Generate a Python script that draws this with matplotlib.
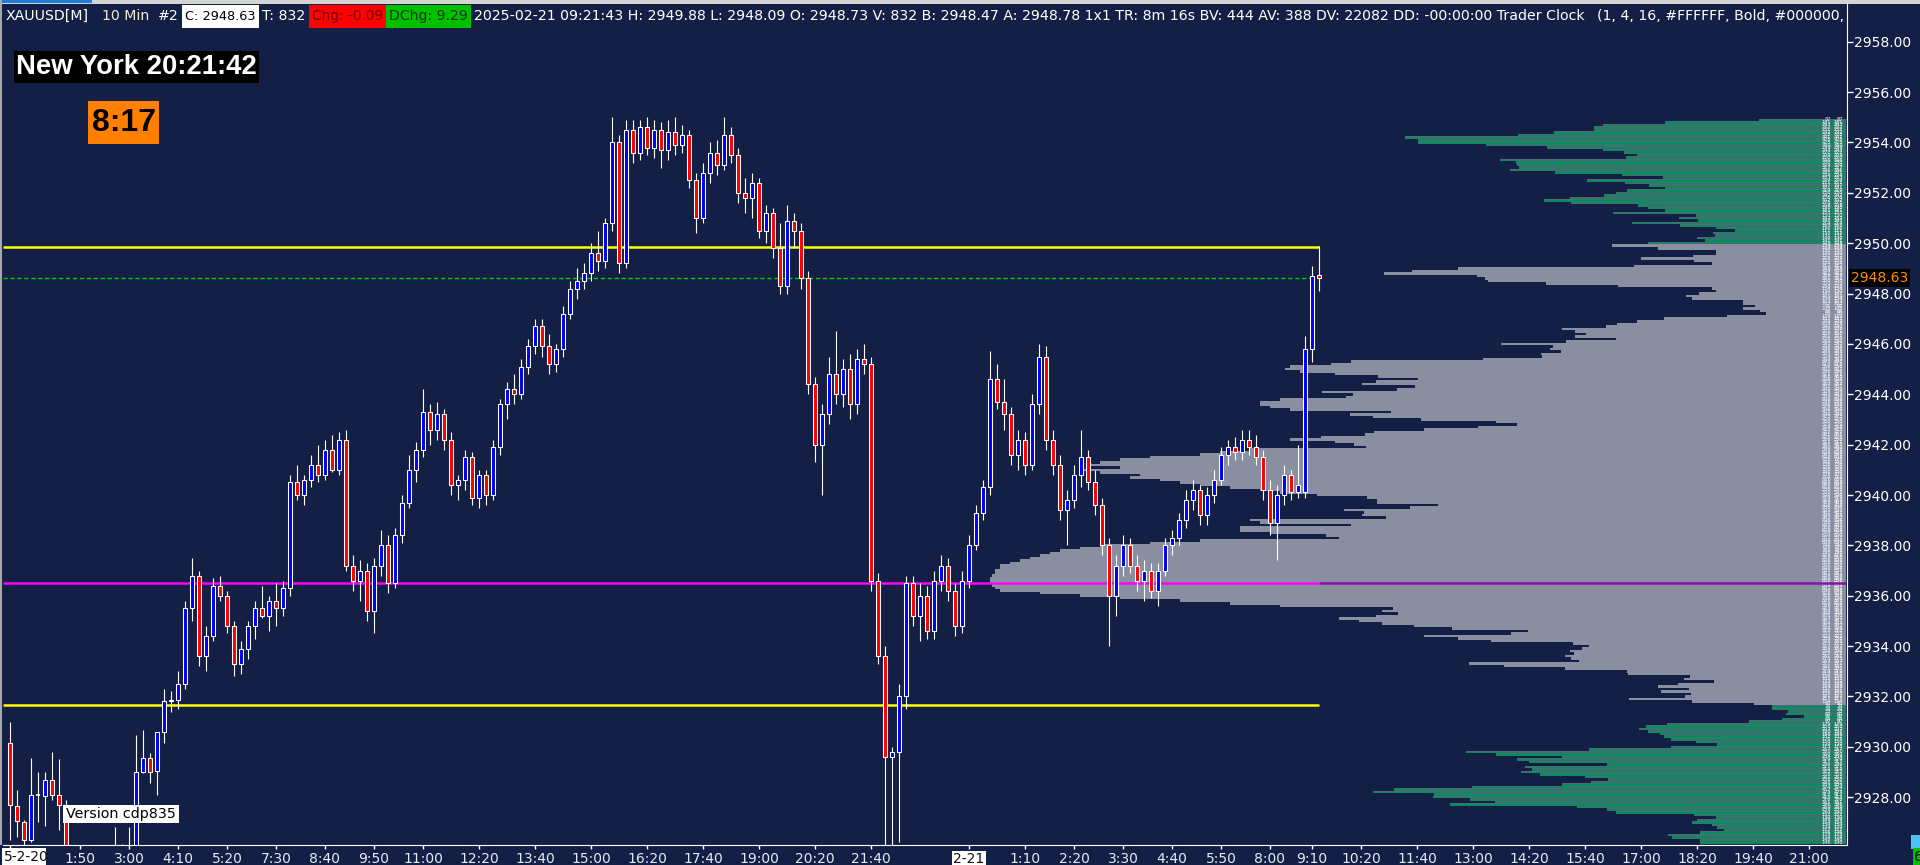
import numpy as np
import matplotlib.pyplot as plt
from matplotlib.patches import Rectangle
from matplotlib import font_manager

W, H = 1920, 865
BG = '#141f45'

# ---------------- data: 10 min candles, bar 0 .. 187 ----------------
opens = [
    2930.15, 2927.65, 2927.0, 2926.3, 2928.1, 2928.05, 2928.7, 2928.1, 2927.7, 2925.5,
    2925.2, 2925.0, 2924.6, 2925.0, 2925.4, 2925.6, 2925.9, 2925.7, 2925.8, 2929.0,
    2929.55, 2929.05, 2930.6, 2931.8, 2931.85, 2932.5, 2935.5, 2936.8, 2933.6, 2934.4,
    2936.4, 2936.0, 2934.8, 2933.3, 2933.9, 2934.8, 2935.5, 2935.2, 2935.8, 2935.5,
    2936.3, 2940.5, 2940.0, 2940.6, 2941.2, 2940.8, 2941.8, 2941.0, 2942.2, 2937.2,
    2936.6, 2937.0, 2935.4, 2937.2, 2938.0, 2936.5, 2938.4, 2939.7, 2941.0, 2941.8,
    2943.3, 2942.6, 2943.2, 2942.2, 2940.4, 2940.6, 2941.5, 2939.9, 2940.8, 2940.0,
    2941.9, 2943.6, 2944.2, 2944.0, 2945.1, 2945.9, 2946.7, 2945.9, 2945.2, 2945.8,
    2947.2, 2948.2, 2948.5, 2948.8, 2949.6, 2949.3, 2950.8, 2954.0, 2949.2, 2954.5,
    2953.6, 2954.6, 2953.8, 2954.5, 2953.7, 2954.4, 2953.9, 2954.3, 2952.5, 2951.0,
    2952.8, 2953.6, 2953.1, 2954.3, 2953.5, 2952.0, 2951.8, 2952.4, 2950.5, 2951.2,
    2949.8, 2948.3, 2950.9, 2950.5, 2948.6, 2944.4, 2942.0, 2943.2, 2944.8, 2944.0,
    2945.0, 2943.6, 2945.4, 2945.2, 2936.6, 2933.6, 2929.6, 2929.8, 2932.0, 2936.5,
    2935.2, 2936.0, 2934.6, 2936.6, 2937.2, 2936.2, 2934.8, 2936.6, 2938.0, 2939.3,
    2940.3, 2944.6, 2943.7, 2943.2, 2941.6, 2942.2, 2941.2, 2943.6, 2945.5, 2942.2,
    2941.2, 2939.4, 2939.8, 2940.8, 2941.5, 2940.5, 2939.6, 2938.0, 2936.0, 2937.2,
    2938.0, 2937.2, 2936.6, 2937.0, 2936.2, 2937.0, 2938.0, 2938.3, 2939.0, 2939.8,
    2940.2, 2939.2, 2940.0, 2940.6, 2941.6, 2941.9, 2941.7, 2942.2, 2941.9, 2941.5,
    2940.2, 2938.9, 2940.0, 2940.8, 2940.1, 2940.1, 2945.8, 2948.73,
]
highs = [
    2931.0, 2928.3, 2927.1, 2929.55, 2929.0, 2929.0, 2929.8, 2929.5, 2927.9, 2926.0,
    2925.8, 2925.6, 2925.3, 2925.8, 2925.9, 2926.8, 2926.15, 2926.8, 2930.45, 2930.65,
    2929.75, 2930.6, 2932.3, 2932.2, 2933.0, 2935.8, 2937.5, 2937.0, 2934.8, 2936.7,
    2936.8, 2936.2, 2935.0, 2934.2, 2935.0, 2935.8, 2936.4, 2936.0, 2936.5, 2936.6,
    2940.8, 2941.2, 2940.8, 2941.6, 2942.0, 2942.2, 2942.4, 2942.5, 2942.6, 2937.6,
    2937.4, 2937.3, 2937.5, 2938.6, 2938.4, 2938.7, 2940.0, 2941.6, 2942.1, 2944.2,
    2943.6, 2943.7, 2943.4, 2942.5, 2940.8, 2941.8, 2941.7, 2941.0, 2941.0, 2942.2,
    2943.8, 2944.5, 2944.8, 2945.4, 2946.2, 2947.0, 2947.0, 2946.4, 2946.0, 2947.5,
    2948.5, 2949.0, 2949.2, 2950.0, 2950.5, 2951.0, 2955.0, 2954.3, 2954.9, 2954.9,
    2954.9, 2955.0, 2954.9, 2954.8, 2954.9, 2955.0, 2954.7, 2954.5, 2952.8, 2953.2,
    2954.0, 2954.1, 2955.0, 2954.6, 2953.8, 2952.6, 2952.8, 2952.6, 2951.5, 2951.4,
    2950.8, 2951.5, 2951.2, 2950.8, 2948.9, 2944.7, 2943.6, 2945.5, 2946.5, 2945.4,
    2945.6, 2945.8, 2946.0, 2945.5, 2936.9, 2934.0, 2930.0, 2932.5, 2936.8, 2936.8,
    2936.5, 2936.4, 2937.0, 2937.6, 2937.5, 2936.5, 2937.0, 2938.4, 2939.6, 2940.6,
    2945.7, 2945.2, 2944.6, 2943.5, 2942.6, 2942.5, 2944.0, 2946.0, 2945.9, 2942.6,
    2941.6, 2940.2, 2941.2, 2942.6, 2941.8, 2941.0, 2939.9, 2938.3, 2937.6, 2938.4,
    2938.3, 2937.6, 2937.4, 2937.3, 2937.3, 2938.3, 2938.6, 2939.3, 2940.2, 2940.6,
    2940.4, 2940.3, 2941.0, 2941.9, 2942.2, 2942.3, 2942.6, 2942.6, 2942.4, 2941.8,
    2940.6, 2940.4, 2941.2, 2941.0, 2942.0, 2946.3, 2949.1, 2949.88,
]
lows = [
    2926.3, 2926.4, 2926.1, 2926.2, 2927.0, 2926.85, 2927.9, 2926.7, 2925.0, 2924.8,
    2924.5, 2924.2, 2924.0, 2924.6, 2924.9, 2925.2, 2925.3, 2925.2, 2925.5, 2928.95,
    2928.55, 2928.1, 2930.15, 2931.4, 2931.5, 2932.3, 2935.0, 2933.2, 2933.0, 2934.2,
    2935.8, 2934.5, 2932.8, 2932.9, 2933.5, 2934.3, 2935.1, 2934.6, 2934.8, 2935.2,
    2936.0, 2939.8, 2939.6, 2940.3, 2940.5, 2940.6, 2940.9, 2940.8, 2937.0, 2936.2,
    2935.8, 2935.0, 2934.5, 2936.8, 2936.1, 2936.3, 2938.1, 2939.5, 2940.5, 2941.5,
    2942.0, 2942.2, 2941.8, 2940.0, 2939.8, 2940.2, 2939.6, 2939.5, 2939.6, 2939.8,
    2941.6, 2943.0, 2943.6, 2943.8, 2944.8, 2945.6, 2945.5, 2944.8, 2944.9, 2945.5,
    2947.0, 2947.8, 2948.2, 2948.5, 2948.9, 2949.0, 2950.5, 2948.8, 2949.0, 2953.2,
    2953.3, 2953.5, 2953.4, 2953.0, 2953.3, 2953.5, 2953.6, 2952.2, 2950.4, 2950.8,
    2952.4, 2952.7, 2952.9, 2953.2, 2951.6, 2951.2, 2951.0, 2950.2, 2950.0, 2949.4,
    2948.0, 2948.0, 2949.8, 2948.2, 2944.0, 2941.3, 2940.0, 2942.8, 2943.6, 2943.5,
    2943.0, 2943.2, 2944.8, 2936.2, 2933.3, 2926.1, 2926.1, 2926.2, 2931.5, 2934.8,
    2934.2, 2934.3, 2934.3, 2936.2, 2935.8, 2934.4, 2934.5, 2936.3, 2937.8, 2939.0,
    2940.0, 2943.4, 2942.6, 2941.2, 2941.0, 2940.8, 2941.0, 2943.2, 2941.8, 2940.8,
    2939.0, 2938.0, 2939.5, 2940.3, 2940.2, 2939.2, 2937.6, 2934.0, 2935.2, 2936.8,
    2936.9, 2936.2, 2935.8, 2935.9, 2935.6, 2936.8, 2937.6, 2938.0, 2938.7, 2939.4,
    2938.8, 2938.8, 2939.7, 2940.4, 2941.2, 2941.4, 2941.4, 2941.6, 2941.2, 2939.8,
    2938.4, 2937.4, 2939.6, 2939.8, 2939.9, 2939.9, 2945.3, 2948.09,
]
closes = [
    2927.7, 2927.05, 2926.3, 2928.1, 2928.1, 2928.7, 2928.1, 2927.7, 2925.5, 2925.2,
    2925.0, 2924.6, 2925.0, 2925.4, 2925.6, 2925.9, 2925.7, 2925.8, 2929.0, 2929.55,
    2929.0, 2930.6, 2931.8, 2931.85, 2932.5, 2935.5, 2936.8, 2933.6, 2934.4, 2936.4,
    2936.0, 2934.8, 2933.3, 2933.9, 2934.8, 2935.5, 2935.2, 2935.8, 2935.5, 2936.3,
    2940.5, 2940.0, 2940.6, 2941.2, 2940.8, 2941.8, 2941.0, 2942.2, 2937.2, 2936.6,
    2937.0, 2935.4, 2937.2, 2938.0, 2936.5, 2938.4, 2939.7, 2941.0, 2941.8, 2943.3,
    2942.6, 2943.2, 2942.2, 2940.4, 2940.6, 2941.5, 2939.9, 2940.8, 2940.0, 2941.9,
    2943.6, 2944.2, 2944.0, 2945.1, 2945.9, 2946.7, 2945.9, 2945.2, 2945.8, 2947.2,
    2948.2, 2948.5, 2948.8, 2949.6, 2949.3, 2950.8, 2954.0, 2949.2, 2954.5, 2953.6,
    2954.6, 2953.8, 2954.5, 2953.7, 2954.4, 2953.9, 2954.3, 2952.5, 2951.0, 2952.8,
    2953.6, 2953.1, 2954.3, 2953.5, 2952.0, 2951.8, 2952.4, 2950.5, 2951.2, 2949.8,
    2948.3, 2950.9, 2950.5, 2948.6, 2944.4, 2942.0, 2943.2, 2944.8, 2944.0, 2945.0,
    2943.6, 2945.4, 2945.2, 2936.6, 2933.6, 2929.6, 2929.8, 2932.0, 2936.5, 2935.2,
    2936.0, 2934.6, 2936.6, 2937.2, 2936.2, 2934.8, 2936.6, 2938.0, 2939.3, 2940.3,
    2944.6, 2943.7, 2943.2, 2941.6, 2942.2, 2941.2, 2943.6, 2945.5, 2942.2, 2941.2,
    2939.4, 2939.8, 2940.8, 2941.5, 2940.5, 2939.6, 2938.0, 2936.0, 2937.2, 2938.0,
    2937.2, 2936.6, 2937.0, 2936.2, 2937.0, 2938.0, 2938.3, 2939.0, 2939.8, 2940.2,
    2939.2, 2940.0, 2940.6, 2941.6, 2941.9, 2941.7, 2942.2, 2941.9, 2941.5, 2940.2,
    2938.9, 2940.0, 2940.8, 2940.1, 2940.4, 2945.8, 2948.7, 2948.63,
]

# time axis labels (bar index where each label sits)
tick_bars = [0, 10, 17, 24, 31, 38, 45, 52, 59, 67, 75, 83, 91, 99, 107, 115, 123,
             137, 145, 152, 159, 166, 173, 180, 186, 193, 201, 209, 217, 225, 233,
             241, 249, 257]
tick_text = ['5-2-20', '1:50', '3:00', '4:10', '5:20', '7:30', '8:40', '9:50',
             '11:00', '12:20', '13:40', '15:00', '16:20', '17:40', '19:00', '20:20',
             '21:40', '2-21', '1:10', '2:20', '3:30', '4:40', '5:50', '8:00', '9:10',
             '10:20', '11:40', '13:00', '14:20', '15:40', '17:00', '18:20', '19:40',
             '21:00']
price_ticks = [2928, 2930, 2932, 2934, 2936, 2938, 2940, 2942, 2944, 2946,
               2948, 2950, 2952, 2954, 2956, 2958]

# volume profile, 0.1 rows from 2954.9 downwards
prof_top = 2954.9
prof_vol = [
    87, 181, 243, 252, 252, 292, 328, 441, 428, 428,
    360, 299, 243, 222, 209, 220, 346, 330, 329, 327,
    336, 291, 224, 183, 259, 221, 197, 181, 219, 230,
    242, 276, 302, 275, 208, 198, 181, 233, 150, 167,
    148, 214, 166, 130, 111, 133, 131, 149, 141, 198,
    234, 188, 130, 130, 153, 205, 152, 134, 212, 388,
    434, 462, 369, 361, 358, 300, 228, 134, 130, 147,
    160, 154, 103, 103, 91, 103, 86, 80, 119, 182,
    209, 229, 240, 284, 271, 260, 271, 230, 280, 345,
    293, 296, 285, 305, 304, 363, 495, 515, 556, 561,
    546, 511, 468, 428, 470, 484, 431, 449, 524, 493,
    500, 566, 586, 586, 576, 556, 455, 496, 473, 425,
    350, 329, 368, 422, 472, 481, 525, 556, 511, 492,
    480, 596, 626, 646, 696, 726, 746, 756, 726, 766,
    746, 706, 716, 686, 666, 646, 616, 586, 566, 529,
    479, 469, 469, 408, 436, 502, 482, 484, 460, 596,
    586, 495, 606, 606, 576, 520, 507, 646, 696, 746,
    766, 786, 796, 806, 816, 826, 836, 846, 846, 851,
    851, 854, 856, 856, 856, 854, 851, 846, 806, 766,
    726, 666, 616, 566, 453, 464, 448, 470, 507, 487,
    464, 432, 394, 318, 335, 422, 388, 355, 273, 257,
    264, 276, 272, 281, 275, 267, 377, 342, 281, 219,
    218, 156, 162, 132, 168, 188, 157, 185, 155, 161,
    217, 154, 92, 74, 74, 58, 60, 42, 64, 97,
    179, 200, 207, 198, 186, 182, 175, 150, 129, 175,
    257, 380, 350, 284, 329, 317, 239, 321, 314, 325,
    306, 261, 238, 255, 284, 374, 452, 473, 412, 413,
    376, 351, 396, 269, 239, 230, 152, 130, 149, 154,
    134, 129, 122, 146, 178, 174, 146, 146,
]
va_high, va_low = 2949.9, 2931.7   # value area rows
vah_line, val_line, poc = 2949.83, 2931.67, 2936.5
last_price = 2948.63

header_a = ['XAUUSD[M]', '10 Min', '#2']
header_close = 'C: 2948.63'
header_ticks = 'T: 832'
header_chg = 'Chg: -0.09'
header_dchg = 'DChg: 9.29'
header_rest = ('2025-02-21 09:21:43 H: 2949.88 L: 2948.09 O: 2948.73 V: 832 '
               'B: 2948.47 A: 2948.78 1x1 TR: 8m 16s BV: 444 AV: 388 DV: 22082 '
               'DD: -00:00:00 Trader Clock')
header_tail = '(1, 4, 16, #FFFFFF, Bold, #000000, Center)'


def pick(*names):
    for n in names:
        try:
            font_manager.findfont(n, fallback_to_default=False)
            return n
        except Exception:
            pass
    return 'DejaVu Sans'


NARROW = pick('Liberation Sans Narrow', 'DejaVu Sans')
ARIAL = pick('Liberation Sans', 'DejaVu Sans')

fig = plt.figure(figsize=(W / 100, H / 100), dpi=100, facecolor=BG)
rect = [3 / W, (H - 845) / H, (1847 - 3) / W, (845 - 4) / H]
axp = fig.add_axes(rect, zorder=0)
ax = fig.add_axes(rect, zorder=1)
ax.patch.set_visible(False)
axp.set_facecolor(BG)
ylo, yhi = 2926.1, 2959.5
ax.set_ylim(ylo, yhi)
axp.set_ylim(ylo, yhi)
ax.set_xlim(-1, 262.43)
axp.set_xlim(1843, -1)
for s in axp.spines.values():
    s.set_visible(False)
axp.set_xticks([])
axp.set_yticks([])

# ---- volume profile ----
centers = prof_top - 0.1 * np.arange(len(prof_vol))
vols = np.array(prof_vol)
in_va = (centers <= va_high + 0.01) & (centers >= va_low - 0.01)
cols = np.where(in_va, '#898ea1', '#0b8a5c')
axp.barh(centers, vols, height=0.1, left=0, color=cols, linewidth=0)
g = ~in_va
axp.hlines(centers[g] + 0.05, 0, vols[g], color='#55667a', lw=0.7)
for c, v in zip(centers, vols):
    axp.text(3, c, str(v), fontsize=3.6, color='white', ha='right', va='center')
    axp.text(15, c, str(v), fontsize=3.6, color='#e8f4ff', ha='right', va='center')

# ---- level lines ----
idx = np.arange(len(closes))
last = idx[-1]
ax.hlines(vah_line, -1, last, color='#ffff00', lw=1.8, zorder=1)
ax.hlines(val_line, -1, last, color='#ffff00', lw=1.8, zorder=1)
ax.hlines(poc, -1, last, color='#ff00ff', lw=1.8, zorder=1)
ax.hlines(poc, last, 262.3, color='#8c10a8', lw=1.8, zorder=1)
ax.hlines(last_price, -1, last - 0.5, color='#00d000', lw=1.0,
          linestyles=(0, (3, 2)), zorder=1)

# ---- candles ----
o = np.array(opens); h = np.array(highs); l = np.array(lows); c = np.array(closes)
ax.vlines(idx, l, h, color='white', lw=0.8, zorder=2)
up = c > o + 0.02
dn = c < o - 0.02
dj = ~(up | dn)
ax.bar(idx[up], (c - o)[up], bottom=o[up], width=0.58, color='#0000ff',
       edgecolor='white', lw=0.75, zorder=3)
ax.bar(idx[dn], (o - c)[dn], bottom=c[dn], width=0.58, color='#ff0000',
       edgecolor='white', lw=0.75, zorder=3)
ax.hlines(o[dj], idx[dj] - 0.35, idx[dj] + 0.35, color='white', lw=1.2, zorder=3)

# ---- axes styling ----
ax.yaxis.tick_right()
ax.set_yticks(price_ticks)
ax.set_yticklabels([f'{v:.2f}' for v in price_ticks])
ax.set_xticks(tick_bars)
ax.set_xticklabels([''] + tick_text[1:])
ax.tick_params(axis='y', colors='white', labelsize=10, length=4, width=1, pad=1)
ax.tick_params(axis='x', colors='white', labelcolor='#e6eaf4', labelsize=10,
               length=3, width=1, pad=2)
for s in ['left', 'top']:
    ax.spines[s].set_visible(False)
ax.spines['right'].set_color('white')
ax.spines['bottom'].set_color('white')
for lab in ax.get_xticklabels():
    if '-' in lab.get_text():
        lab.set_color('#111111')
        lab.set_bbox(dict(facecolor='white', edgecolor='none', pad=1))

ax.text(1.002, last_price, f'{last_price:.2f}', transform=ax.get_yaxis_transform(),
        color='#ff8c00', fontsize=10, va='center', ha='left',
        bbox=dict(facecolor='black', edgecolor='none', pad=1.5))

# ---- overlay in pixel coordinates ----
ov = fig.add_axes([0, 0, 1, 1], zorder=5)
ov.set_xlim(0, W)
ov.set_ylim(H, 0)
ov.axis('off')

ov.add_patch(Rectangle((0, 0), W, 4, color='#d4d4d4', lw=0))
ov.add_patch(Rectangle((0, 0), 92, 3, color='#1f7fd8', lw=0))
ov.add_patch(Rectangle((0, 0), 2, 845, color='#a8a8a8', lw=0))

# first date label sits in a white box flush with the left edge
ov.add_patch(Rectangle((2, 848), 44, 17, color='white', lw=0))
ov.text(4, 857, tick_text[0], color='#111111', fontsize=10, va='center', ha='left')

hy = 16
ov.add_patch(Rectangle((182, 5), 77, 23, color='white', lw=0))
ov.add_patch(Rectangle((309, 5), 77, 23, color='#ff0000', lw=0))
ov.add_patch(Rectangle((386, 5), 85, 23, color='#00c000', lw=0))

fig.canvas.draw()
rend = fig.canvas.get_renderer()


def fit(t, width):
    w = t.get_window_extent(rend).width
    t.set_fontsize(t.get_fontsize() * width / w)


t_rest = ov.text(474, hy, header_rest, color='white', fontsize=11,
                 family=NARROW, va='center')
fit(t_rest, 1108)
fs = t_rest.get_fontsize()
heads = [(6, header_a[0], 'white', 0), (102, header_a[1], '#f4ead8', 0),
         (158, header_a[2], 'white', 0), (185, header_close, 'black', 71),
         (262, header_ticks, 'white', 0), (312, header_chg, '#6e0000', 71),
         (389, header_dchg, '#063d06', 79), (1597, header_tail, 'white', 0)]
for x0, s, col, wfit in heads:
    t = ov.text(x0, hy, s, color=col, fontsize=fs, family=NARROW, va='center')
    if wfit:
        fit(t, wfit)
    t.set_clip_box(ax.bbox)
    t.set_clip_on(True)

ov.add_patch(Rectangle((14, 51), 245, 32, color='black', lw=0))
t = ov.text(136, 67, 'New York 20:21:42', color='white', fontsize=20,
            family=ARIAL, weight='bold', ha='center', va='center')
fit(t, 240)
ov.add_patch(Rectangle((88, 101), 71, 43, color='#ff7f00', lw=0))
t = ov.text(124, 123, '8:17', color='black', fontsize=23,
            family=ARIAL, weight='bold', ha='center', va='center')
fit(t, 64)

ov.add_patch(Rectangle((63, 805), 116, 18, color='white', lw=0))
t = ov.text(121, 814, 'Version cdp835', color='black', fontsize=11,
            ha='center', va='center')
fit(t, 110)

ov.add_patch(Rectangle((1911, 835), 9, 14, color='#4fc3f7', lw=0))
ov.add_patch(Rectangle((1913, 848), 7, 17, color='#00c000', lw=0))
ov.text(1914, 857, '6', color='black', fontsize=10, va='center', clip_on=True)

fig.savefig('out.png', dpi=100, facecolor=BG)
